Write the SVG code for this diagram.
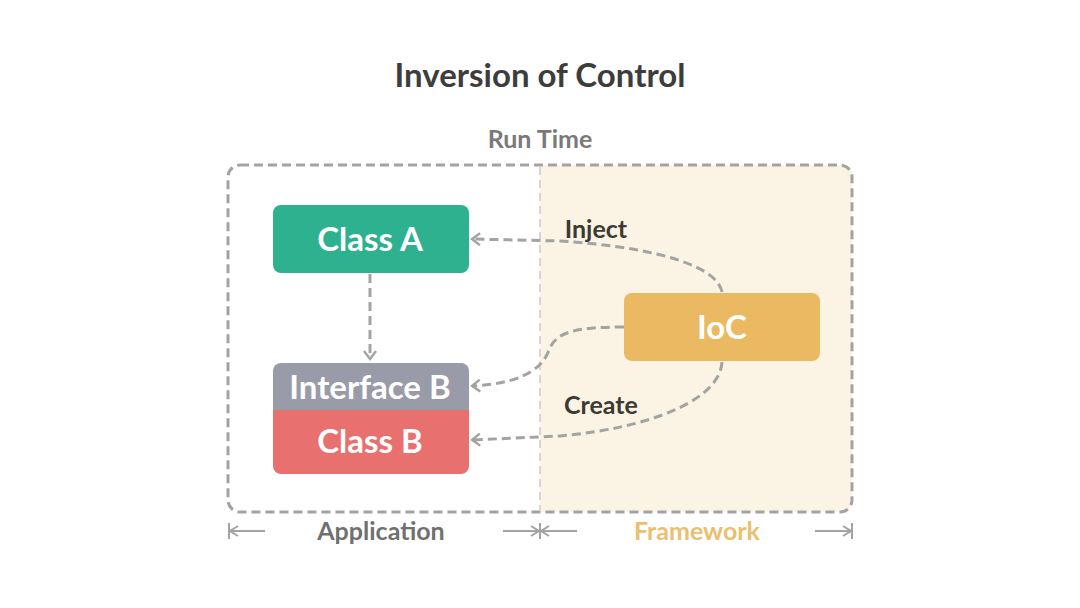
<svg xmlns="http://www.w3.org/2000/svg" width="1080" height="608" viewBox="0 0 1080 608">
<defs>
<style>
text{font-family:Lato,"Open Sans","Liberation Sans",sans-serif;font-weight:bold;text-anchor:middle}
.node{font-size:33px;fill:#ffffff}
.lbl{font-size:25px;fill:#3d3a33}
.dash{fill:none;stroke:#a3a3a3;stroke-width:3;stroke-dasharray:9 5}
.dim{stroke:#a3a3a3;stroke-width:2;fill:none}
</style>
<marker id="ah" viewBox="0 0 14 14" refX="12" refY="7" markerWidth="14" markerHeight="14" markerUnits="userSpaceOnUse" orient="auto">
<path d="M4 1 L12 7 L4 13" fill="none" stroke="#a3a3a3" stroke-width="2.4"/>
</marker>
</defs>
<rect width="1080" height="608" fill="#ffffff"/>
<text x="540" y="87" font-size="33" fill="#3d3d3d">Inversion of Control</text>
<text x="540" y="148" font-size="25" fill="#7a7a7a">Run Time</text>
<g id="framework-area">
<path d="M540 165 H840 Q852 165 852 177 V500 Q852 512 840 512 H540 Z" fill="#fbf4e5"/>
<line x1="540" y1="167" x2="540" y2="510" stroke="#d6d6d6" stroke-width="2" stroke-dasharray="8 5"/>
</g>
<rect id="runtime" x="228" y="165" width="624" height="347" rx="12" class="dash"/>
<g id="connectors">
<path class="dash" d="M370 274 V359" marker-end="url(#ah)"/>
<path class="dash" d="M722 292 C716 262 640 246 560 241 L472 239" marker-end="url(#ah)"/>
<path class="dash" d="M624 327 C575 327 556 332 549 350 C540 375 510 384 472 386" marker-end="url(#ah)"/>
<path class="dash" d="M722 362 C720 400 650 428 560 436 L472 440" marker-end="url(#ah)"/>
</g>
<g id="class-a">
<rect x="273" y="205" width="196" height="68" rx="8" fill="#2eb18f"/>
<text class="node" x="370" y="251">Class A</text>
</g>
<g id="interface-b">
<rect x="273" y="363" width="196" height="50" rx="8" fill="#9a9ba8"/>
<rect x="273" y="395" width="196" height="15" fill="#9a9ba8"/>
<text class="node" x="370" y="399">Interface B</text>
</g>
<g id="class-b">
<rect x="273" y="410" width="196" height="64" rx="8" fill="#e8716f"/>
<rect x="273" y="410" width="196" height="15" fill="#e8716f"/>
<text class="node" x="370" y="453">Class B</text>
</g>
<g id="ioc">
<rect x="624" y="293" width="196" height="68" rx="8" fill="#ebb961"/>
<text class="node" x="722" y="339">IoC</text>
</g>
<text class="lbl" x="596" y="238">Inject</text>
<text class="lbl" x="601" y="414">Create</text>
<g id="dimensions">
<path class="dim" d="M229 523 V539 M230 531 H265 M238 526 L230 531 L238 536"/>
<path class="dim" d="M503 531 H539 M531 526 L539 531 L531 536"/>
<path class="dim" d="M540 523 V539 M541 531 H577 M549 526 L541 531 L549 536"/>
<path class="dim" d="M815 531 H851 M843 526 L851 531 L843 536 M852 523 V539"/>
</g>
<text x="381" y="540" font-size="25" fill="#707070">Application</text>
<text x="697" y="540" font-size="25" fill="#e9c06f">Framework</text>
</svg>
